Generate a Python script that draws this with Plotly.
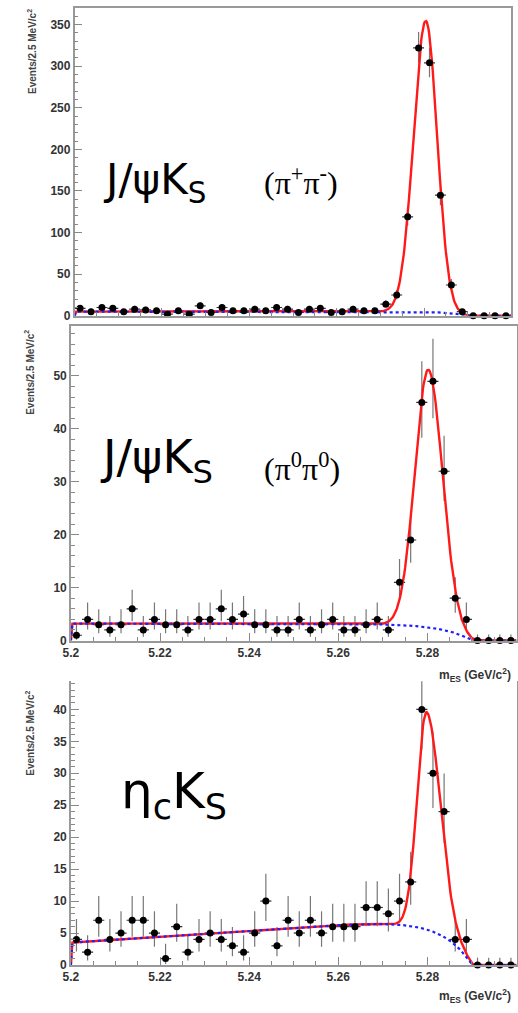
import numpy as np
import plotly.graph_objects as go

# ---------------- data ----------------
# bin centres of m_ES (GeV/c^2), 2.5 MeV bins from 5.20 to 5.30
mes = [5.20125, 5.20375, 5.20625, 5.20875, 5.21125, 5.21375, 5.21625, 5.21875,
       5.22125, 5.22375, 5.22625, 5.22875, 5.23125, 5.23375, 5.23625, 5.23875,
       5.24125, 5.24375, 5.24625, 5.24875, 5.25125, 5.25375, 5.25625, 5.25875,
       5.26125, 5.26375, 5.26625, 5.26875, 5.27125, 5.27375, 5.27625, 5.27875,
       5.28125, 5.28375, 5.28625, 5.28875, 5.29125, 5.29375, 5.29625, 5.29875]
half_bin = 0.00125

jpsi_pipi = [9, 5, 10, 9, 5, 8, 7, 6, 2, 6, 2, 12, 4, 10, 6, 6, 8, 6, 10, 8,
             4, 8, 9, 4, 5, 8, 6, 6, 14, 25, 119, 322, 304, 145, 37, 5, 0, 0, 0, 0]
jpsi_pi0pi0 = [1, 4, 3, 2, 3, 6, 2, 4, 3, 3, 2, 4, 4, 6, 4, 5, 3, 3, 2, 2,
               4, 2, 3, 4, 2, 2, 3, 4, 2, 11, 19, 45, 49, 32, 8, 4, 0, 0, 0, 0]
etac_ks = [4, 2, 7, 4, 5, 7, 7, 5, 1, 6, 2, 4, 5, 4, 3, 2, 5, 10, 3, 7,
           5, 7, 5, 6, 6, 6, 9, 9, 8, 10, 13, 40, 30, 24, 4, 4, 0, 0, 0, 0]

# fit model parameters, one entry per panel
peak_mean = [5.2804, 5.2802, 5.2798]
peak_amp = [350.0, 48.7, 34.0]
peak_sig_lo = [0.0028, 0.0030, 0.0021]
peak_sig_hi = [0.0026, 0.0032, 0.0031]
bkg_level = [5.0, 3.2, 3.5]
bkg_slope = [0.0, 0.0, 47.0]
bkg_width = [0.004, 0.0065, 0.007]
endpoint = 5.29

panel_labels = ["J/ψK<sub>S</sub>", "J/ψK<sub>S</sub>", "η<sub>c</sub>K<sub>S</sub>"]
mode_labels = ["(π<sup>+</sup>π<sup>-</sup>)", "(π<sup>0</sup>π<sup>0</sup>)", None]
y_ranges = [[0, 370], [0, 59.5], [0, 44.4]]
y_dtick = [50, 10, 5]
y_minor = [10, 2, 1]
x_tick_vals = [5.20, 5.22, 5.24, 5.26, 5.28, 5.30]
x_tick_text = ["5.2", "5.22", "5.24", "5.26", "5.28", "5.3"]
ytitle = "Events/2.5 MeV/c<sup>2</sup>"
xtitle = "m<sub>ES</sub> (GeV/c<sup>2</sup>)"

W, H = 518, 1013


def poisson_err(n):
    n = np.asarray(n, dtype=float)
    up = np.where(n > 0, np.sqrt(n + 0.75) + 1.0, 1.15)
    safe = np.where(n > 0, n, 1.0)
    lo = np.where(n > 0, n - n * (1 - 1 / (9 * safe) - 1 / (3 * np.sqrt(safe))) ** 3, 0.0)
    return up, lo


def bkg(m, k):
    m = np.asarray(m)
    val = (bkg_level[k] + bkg_slope[k] * (m - 5.2)) * (1 - np.exp(-(endpoint - m) / bkg_width[k]))
    return np.where((m > 5.2) & (m < endpoint), val, 0.0)


def sig(m, k):
    m = np.asarray(m)
    s = np.where(m < peak_mean[k], peak_sig_lo[k], peak_sig_hi[k])
    val = peak_amp[k] * np.exp(-0.5 * ((m - peak_mean[k]) / s) ** 2)
    return np.where(m > 5.2, val, 0.0)


grid = np.linspace(5.2, 5.3, 601)

# pixel geometry of the three panels -> paper domains
def ydom(top_px, bot_px):
    return [1 - bot_px / H, 1 - top_px / H]

x_doms = [[67.8 / W, 512.3 / W], [64 / W, 517.5 / W], [64 / W, 517.5 / W]]
y_doms = [ydom(8, 318), ydom(328, 645), ydom(686, 971.7)]

fig = go.Figure()
datasets = [jpsi_pipi, jpsi_pi0pi0, etac_ks]
for k, counts in enumerate(datasets):
    xa = "x" if k == 0 else f"x{k+1}"
    ya = "y" if k == 0 else f"y{k+1}"
    up, lo = poisson_err(counts)
    # error bars (clipped to the frame)
    fig.add_trace(go.Scatter(
        x=mes, y=counts, xaxis=xa, yaxis=ya, mode="markers",
        marker=dict(size=7, color="rgba(0,0,0,0)"),
        error_y=dict(type="data", symmetric=False, array=up, arrayminus=lo,
                     color="#777", thickness=1.2, width=0),
        error_x=dict(type="constant", value=half_bin, color="#333", thickness=1.2, width=0),
        cliponaxis=True, showlegend=False, hoverinfo="skip"))
    # total fit (red)
    fig.add_trace(go.Scatter(
        x=grid, y=bkg(grid, k) + sig(grid, k), xaxis=xa, yaxis=ya, mode="lines",
        line=dict(color="#ff1a1a", width=2.4), showlegend=False, hoverinfo="skip"))
    # background (blue dotted)
    fig.add_trace(go.Scatter(
        x=grid, y=bkg(grid, k), xaxis=xa, yaxis=ya, mode="lines",
        line=dict(color="#1f1fff", width=2.2, dash="dot"), showlegend=False, hoverinfo="skip"))
    # data markers
    fig.add_trace(go.Scatter(
        x=mes, y=counts, xaxis=xa, yaxis=ya, mode="markers",
        marker=dict(size=7, color="black", symbol="circle"),
        cliponaxis=False, showlegend=False, hoverinfo="skip"))

tickfont = dict(family="Liberation Sans", size=12, color="#333", weight="bold")
layout = dict(width=W, height=H, margin=dict(l=0, r=0, t=0, b=0),
              paper_bgcolor="white", plot_bgcolor="white", showlegend=False)

for k in range(3):
    xkey = "xaxis" if k == 0 else f"xaxis{k+1}"
    ykey = "yaxis" if k == 0 else f"yaxis{k+1}"
    ya = "y" if k == 0 else f"y{k+1}"
    xa = "x" if k == 0 else f"x{k+1}"
    layout[xkey] = dict(
        domain=x_doms[k], anchor=ya, range=[5.2, 5.3], showgrid=False, zeroline=False,
        showline=True, linecolor="#999", linewidth=1.5, mirror=(k != 2),
        ticks="inside", ticklen=8, tickcolor="#888", tickwidth=1,
        tickvals=x_tick_vals, ticktext=x_tick_text, showticklabels=(k != 0),
        tickfont=tickfont,
        minor=dict(ticks="inside", ticklen=4, dtick=0.005, tickcolor="#888", showgrid=False))
    layout[ykey] = dict(
        domain=y_doms[k], anchor=xa, range=y_ranges[k], showgrid=False, zeroline=False,
        showline=True, linecolor="#999", linewidth=1.5, mirror=True,
        ticks="inside", ticklen=8, tickcolor="#888", tickwidth=1,
        dtick=y_dtick[k], tick0=0, tickfont=tickfont,
        minor=dict(ticks="inside", ticklen=4, dtick=y_minor[k], tickcolor="#888", showgrid=False))

fig.update_layout(**layout)

ann = []
# y-axis titles
ann.append(dict(text=ytitle, x=25 / W, y=1 - 7 / H, xref="paper", yref="paper",
                xanchor="center", yanchor="top", textangle=-90, showarrow=False,
                font=dict(family="Liberation Sans", size=10, color="#444", weight="bold")))
ann.append(dict(text=ytitle, x=22 / W, y=1 - 330 / H, xref="paper", yref="paper",
                xanchor="center", yanchor="top", textangle=-90, showarrow=False,
                font=dict(family="Liberation Sans", size=10, color="#444", weight="bold")))
ann.append(dict(text=ytitle, x=22 / W, y=1 - 783 / H, xref="paper", yref="paper",
                xanchor="center", yanchor="bottom", textangle=-90, showarrow=False,
                font=dict(family="Liberation Sans", size=10, color="#444", weight="bold")))
# x-axis titles
for ypx in (680, 1003):
    ann.append(dict(text=xtitle, x=514 / W, y=1 - ypx / H, xref="paper", yref="paper",
                    xanchor="right", yanchor="middle", showarrow=False,
                    font=dict(family="Liberation Sans", size=12, color="#333", weight="bold")))
# big channel labels
label_pos = [(95, 184), (92, 464), (113, 800)]
label_size = [42, 46, 50]
for k in range(3):
    ann.append(dict(text=panel_labels[k], x=label_pos[k][0] / W, y=1 - label_pos[k][1] / H,
                    xref="paper", yref="paper", xanchor="left", yanchor="middle",
                    showarrow=False, font=dict(family="DejaVu Sans", size=label_size[k], color="black")))
mode_pos = [(258, 182), (258, 470)]
for k in range(2):
    ann.append(dict(text=mode_labels[k], x=mode_pos[k][0] / W, y=1 - mode_pos[k][1] / H,
                    xref="paper", yref="paper", xanchor="left", yanchor="middle",
                    showarrow=False, font=dict(family="Liberation Serif", size=32, color="black")))
fig.update_layout(annotations=ann)

fig.write_html("out.html")
